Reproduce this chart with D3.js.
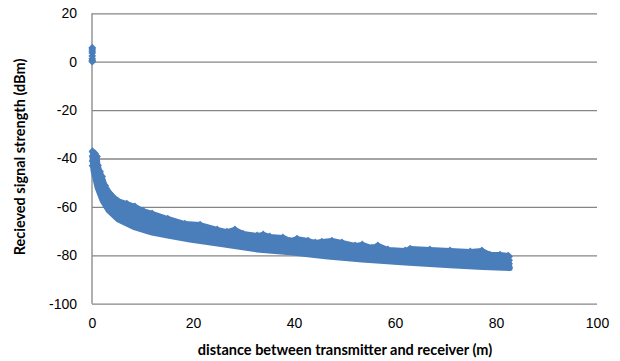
<!DOCTYPE html>
<html lang="en">
  <head>
    <meta charset="UTF-8" />
    <title>Received signal strength vs distance</title>
    <style>
      body { margin: 0; background: #fff; }
      svg { display: block; font-family: Lato, "Open Sans", sans-serif; }
      .grid line, .grid path { stroke: #868686; stroke-width: 1.3; }
      .tick text { fill: #000; font-size: 14px; }
      .title { font-weight: bold; font-size: 14.5px; fill: #000; }
    </style>
  </head>

  <body>
    <script src="https://cdn.jsdelivr.net/npm/d3@7"></script>
    <script>

    // tick labels
    var yTicks = [-100, -80, -60, -40, -20, 0, 20];
    var xTicks = [0, 20, 40, 60, 80, 100];

    // top row of points in the cloud (distance m, dBm)
    var upperDist = [0.2, 0.6, 1.0, 1.2, 1.6, 2.0, 2.6, 3.6, 5.1, 6.9, 8.5, 10.1, 11.9, 15.0, 18.4,
                     21.4, 24.8, 26.7, 28.3, 29.9, 32.7, 33.9, 35.2, 37.8, 39.2, 40.6, 42.8, 44.2,
                     45.5, 47.5, 49.5, 52.1, 53.5, 55.4, 56.6, 58.6, 62.0, 63.0, 66.9, 70.9, 74.9,
                     77.2, 78.8, 80.8, 82.4];
    var upperRss  = [-37.5, -37.9, -39.2, -42.9, -45.4, -47.4, -51.2, -54.5, -57.4, -58.6, -59.8,
                     -61.5, -62.7, -64.8, -66.9, -67.3, -69.3, -70.2, -69.3, -71.0, -71.8, -71.4,
                     -72.2, -72.6, -73.9, -73.1, -73.9, -74.7, -74.3, -73.9, -74.7, -75.9, -75.5,
                     -76.8, -75.9, -77.6, -78.0, -77.2, -77.6, -78.0, -78.4, -78.0, -79.7, -79.7,
                     -80.1];

    // bottom row of points in the cloud
    var lowerDist = [0.0, 0.2, 1.0, 2.0, 3.2, 5.1, 8.5, 11.9, 15.0, 19.4, 25.9, 32.7, 39.2, 46.7,
                     53.5, 62.0, 70.9, 77.4, 82.8];
    var lowerRss  = [-39.6, -45.0, -52.0, -57.4, -61.6, -65.3, -68.7, -70.8, -72.0, -73.7, -75.7,
                     -77.8, -79.0, -80.7, -81.9, -83.2, -84.3, -85.0, -85.5];

    // single points at both ends of the cloud
    var edgeDist = [0.1, 0.1, 0.1, 0.1, 82.6, 82.6, 82.6, 82.6];
    var edgeRss  = [-37.0, -39.0, -41.0, -43.0, -80.5, -82.0, -83.5, -85.0];

    // readings right at the transmitter
    var nearDist = [0.05, 0.05, 0.05, 0.05, 0.05, 0.05, 0.05, 0.05];
    var nearRss  = [0.0, 0.5, 1.2, 2.4, 3.6, 4.4, 5.2, 5.8];

    var w = 620, h = 361;
    var pLeft = 92, pRight = 597, pTop = 13.3, pBottom = 303.7;
    var blue = "#4a7ebb";

    var svg = d3.select("body").append("svg")
                .attr("width", w)
                .attr("height", h);

    var xScale = d3.scaleLinear().domain([0, 100]).range([pLeft, pRight]);
    var yScale = d3.scaleLinear().domain([-100, 20]).range([pBottom, pTop]);

    // horizontal gridlines + y labels
    var yAxis = d3.axisLeft(yScale)
                  .tickValues(yTicks)
                  .tickFormat(function(d) { return String(d); })
                  .tickSize(-(pRight - pLeft))
                  .tickPadding(15);
    svg.append("g")
       .attr("class", "grid")
       .attr("transform", "translate(" + pLeft + ",0)")
       .call(yAxis)
       .call(function(g) { g.select(".domain").remove(); });

    // x labels
    var xAxis = d3.axisBottom(xScale)
                  .tickValues(xTicks)
                  .tickFormat(function(d) { return String(d); })
                  .tickSize(0)
                  .tickPadding(14);
    svg.append("g")
       .attr("class", "grid")
       .attr("transform", "translate(0," + pBottom + ")")
       .call(xAxis)
       .call(function(g) { g.select(".domain").remove(); });

    // left axis line
    svg.append("line")
       .attr("x1", pLeft).attr("x2", pLeft)
       .attr("y1", pTop).attr("y2", pBottom)
       .attr("stroke", "#868686")
       .attr("stroke-width", 1.3);

    // filled band between top and bottom rows of the cloud
    var band = [];
    upperDist.forEach(function(d, i) { band.push([d, upperRss[i]]); });
    for (var i = lowerDist.length - 1; i >= 0; i--) band.push([lowerDist[i], lowerRss[i]]);

    var line = d3.line()
        .x(function(d) { return xScale(d[0]); })
        .y(function(d) { return yScale(d[1]); });

    svg.append("path")
       .attr("d", line(band) + "Z")
       .attr("fill", blue)
       .attr("stroke", blue)
       .attr("stroke-width", 5)
       .attr("stroke-linejoin", "round");

    // diamond markers
    var pts = [];
    upperDist.forEach(function(d, i) { pts.push([d, upperRss[i]]); });
    edgeDist.forEach(function(d, i) { pts.push([d, edgeRss[i]]); });
    nearDist.forEach(function(d, i) { pts.push([d, nearRss[i]]); });

    var diamond = d3.symbol().type(d3.symbolSquare).size(30);

    svg.selectAll("path.dot")
       .data(pts)
       .enter()
       .append("path")
       .attr("class", "dot")
       .attr("d", diamond)
       .attr("fill", blue)
       .attr("transform", function(d) {
         return "translate(" + xScale(d[0]) + "," + yScale(d[1]) + ") rotate(45)";
       });

    // axis titles
    svg.append("text")
       .attr("class", "title")
       .attr("text-anchor", "middle")
       .attr("x", 345)
       .attr("y", 355)
       .text("distance between transmitter and receiver (m)");

    svg.append("text")
       .attr("class", "title")
       .attr("text-anchor", "middle")
       .attr("transform", "translate(25,157) rotate(-90)")
       .text("Recieved signal strength (dBm)");

    </script>
  </body>
</html>
